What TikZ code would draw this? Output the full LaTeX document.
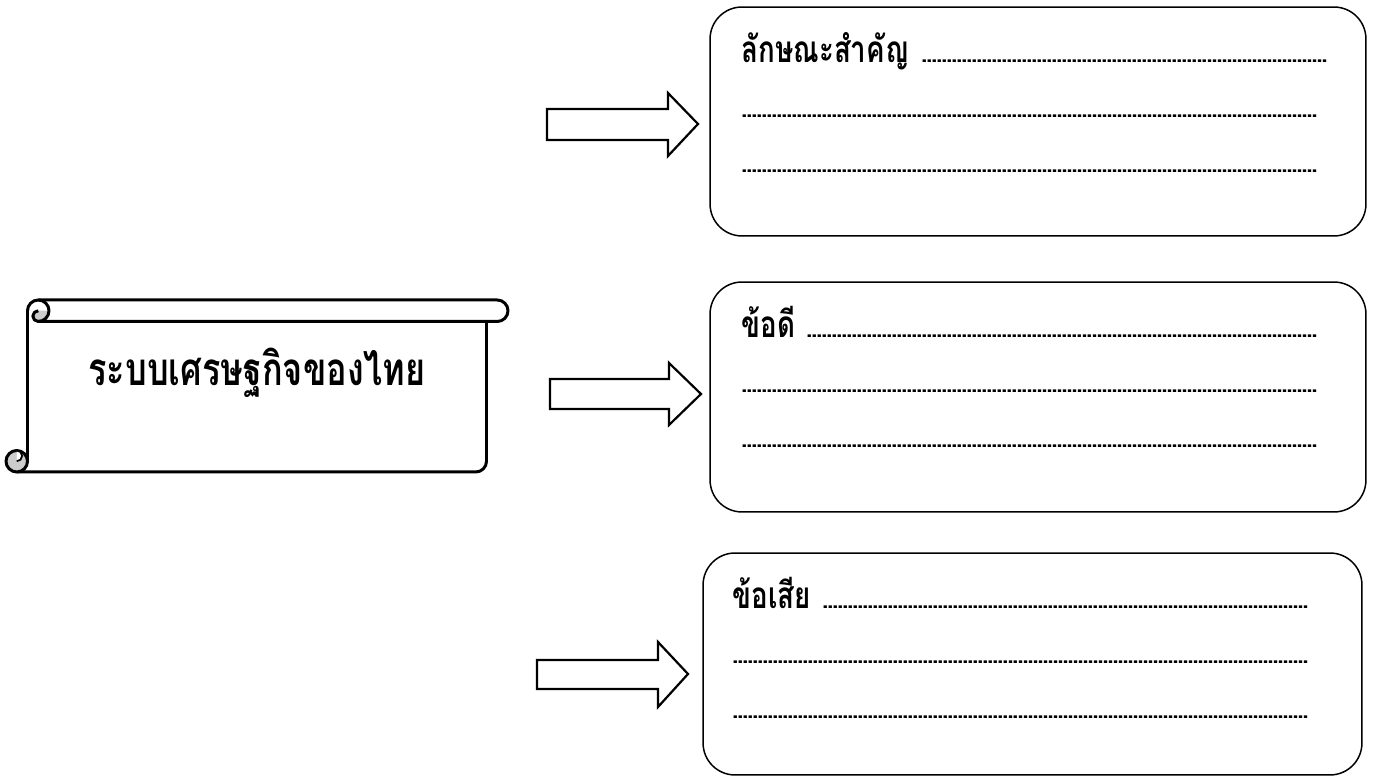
\documentclass[tikz,border=0pt]{standalone}
\usepackage{fontspec}
\newfontfamily\thaifont[Script=Thai]{Loma}
\newfontfamily\thainarrow[Script=Thai, FakeStretch=0.75]{Loma}
\newlength\px
\setlength\px{0.02cm}
\newcommand\dotsrow{\leaders\hbox to 5\px{\hss\thaifont\bfseries\fontsize{14}{14}\selectfont.\hss}\hfill}
\tikzset{
  roundbox/.style={draw, line width=0.85pt, rounded corners=0.64cm, fill=white},
  blockarrow/.style={draw, line width=1.25pt, fill=white, line join=miter},
  scrollline/.style={line width=1.7pt, line join=round},
  curlfill/.style={fill=black!20},
  linetext/.style={anchor=base west, inner sep=0pt, font=\thainarrow\bfseries\fontsize{21}{24}\selectfont},
  titletext/.style={font=\thainarrow\bfseries\fontsize{26}{30}\selectfont}
}

\begin{document}
\begin{tikzpicture}[x=0.02cm, y=0.02cm]
	\useasboundingbox (0,0) rectangle (1373,780);
	% scroll
	\fill[curlfill] (38.25,469.25) -- (49,469.25) arc[start angle=0, end angle=-90, radius=10.75] arc[start angle=-90, end angle=-270, radius=5.375] -- cycle;
	\draw[scrollline] (486.5,458.5) -- (486.5,318.75) arc[start angle=0, end angle=-90, radius=10.75] -- (16.75,308);
	\draw[scrollline, curlfill] (16.75,318.75) circle[radius=10.75];
	\draw[line width=1pt, fill=white] (16.75,329.5) arc[start angle=90, end angle=-90, radius=5.375];
	\draw[scrollline] (27.5,318.75) -- (27.5,469.25) arc[start angle=180, end angle=-90, radius=10.75] arc[start angle=-90, end angle=-270, radius=5.375];
	\draw[scrollline] (38.25,480) -- (497.25,480) arc[start angle=90, end angle=-90, radius=10.75] -- (38.25,458.5);
	\node[titletext] (title) at (257,407) {ระบบเศรษฐกิจของไทย};
	% boxes
	\node[roundbox, minimum width=13.12cm, minimum height=4.58cm] (box1) at (1038,658.5) {};
	\node[roundbox, minimum width=13.12cm, minimum height=4.6cm] (box2) at (1038,383) {};
	\node[roundbox, minimum width=13.18cm, minimum height=4.44cm] (box3) at (1032.5,116) {};
	\node[linetext] (key1) at ([shift={(32,-56)}]box1.north west) {\makebox[588\px][l]{ลักษณะสำคัญ \dotsrow}};
	\node[linetext] (key1b) at ([shift={(32,-111)}]box1.north west) {\makebox[577\px][l]{\dotsrow}};
	\node[linetext] (key1c) at ([shift={(32,-166)}]box1.north west) {\makebox[577\px][l]{\dotsrow}};
	\node[linetext] (pro1) at ([shift={(32,-56)}]box2.north west) {\makebox[577\px][l]{ข้อดี \dotsrow}};
	\node[linetext] (pro1b) at ([shift={(32,-111)}]box2.north west) {\makebox[577\px][l]{\dotsrow}};
	\node[linetext] (pro1c) at ([shift={(32,-166)}]box2.north west) {\makebox[577\px][l]{\dotsrow}};
	\node[linetext] (con1) at ([shift={(30,-56)}]box3.north west) {\makebox[576\px][l]{ข้อเสีย \dotsrow}};
	\node[linetext] (con1b) at ([shift={(30,-111)}]box3.north west) {\makebox[578\px][l]{\dotsrow}};
	\node[linetext] (con1c) at ([shift={(30,-166)}]box3.north west) {\makebox[578\px][l]{\dotsrow}};
	% arrows
	\draw[blockarrow] (547,640) -- (668,640) -- (668,624) -- (698,656) -- (668,687) -- (668,671) -- (547,671) -- cycle;
	\draw[blockarrow] (550,371) -- (669,371) -- (669,355) -- (701,386) -- (669,417) -- (669,401) -- (550,401) -- cycle;
	\draw[blockarrow] (537,91) -- (658,91) -- (658,73) -- (688,106) -- (658,138) -- (658,120) -- (537,120) -- cycle;
\end{tikzpicture}
\end{document}
